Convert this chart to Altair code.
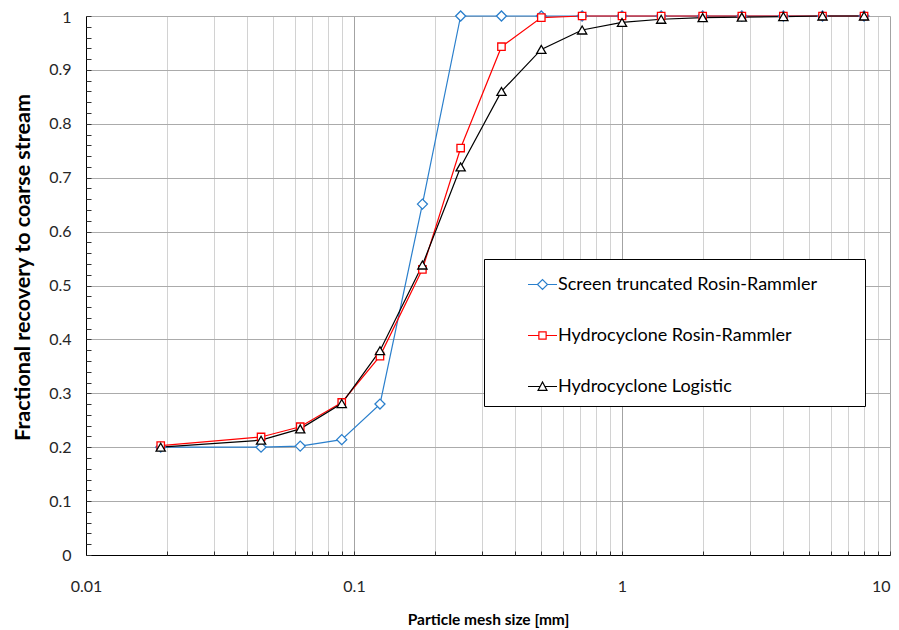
import altair as alt
import pandas as pd

# ---- data ----
sizes = [0.019, 0.045, 0.063, 0.09, 0.125, 0.18, 0.25, 0.355, 0.5, 0.71, 1, 1.4, 2, 2.8, 4, 5.6, 8]
screen_rr = [0.200, 0.200, 0.202, 0.214, 0.280, 0.651, 1.0, 1.0, 1.0, 1.0, 1.0, 1.0, 1.0, 1.0, 1.0, 1.0, 1.0]
cyclone_rr = [0.203, 0.219, 0.238, 0.283, 0.369, 0.530, 0.755, 0.943, 0.997, 1.0, 1.0, 1.0, 1.0, 1.0, 1.0, 1.0, 1.0]
cyclone_logistic = [0.200, 0.213, 0.234, 0.281, 0.379, 0.538, 0.720, 0.860, 0.938, 0.974, 0.988, 0.994, 0.997, 0.998, 0.999, 1.0, 1.0]

series_names = ["Screen truncated Rosin-Rammler", "Hydrocyclone Rosin-Rammler", "Hydrocyclone Logistic"]
series_colors = ["#2a7fcc", "#ff0000", "#000000"]
series_shapes = ["diamond", "square", "triangle-up"]
series_sizes = [100, 55, 85]

y_major = [0, 0.1, 0.2, 0.3, 0.4, 0.5, 0.6, 0.7, 0.8, 0.9, 1]
y_minor = [round(i * 0.02, 2) for i in range(51)]
x_ticks = [round(m * 10.0 ** e, 6) for e in (-2, -1, 0) for m in range(1, 10)] + [10]

rows = []
for name, vals in zip(series_names, [screen_rr, cyclone_rr, cyclone_logistic]):
    for s, v in zip(sizes, vals):
        rows.append({"size": s, "recovery": v, "series": name})
df = pd.DataFrame(rows)

FONT = "Lato"
decade_test = "abs(log(datum.value)/LN10 - round(log(datum.value)/LN10)) < 0.001"

x_scale = alt.Scale(type="log", domain=[0.01, 10])
y_scale = alt.Scale(domain=[0, 1], nice=False, zero=False)
stroke_scale = alt.Scale(domain=series_names, range=series_colors)

# legend symbols: short line with the marker in the middle (paths in [-1,1])
legend_paths = [
    "M-1,0H-0.345M0.345,0H1M-0.345,0L0,-0.345L0.345,0L0,0.345Z",
    "M-1,0H-0.25M0.25,0H1M-0.25,-0.25H0.25V0.25H-0.25Z",
    "M-1,0H-0.2M0.2,0H1M-0.31,0.27L0,-0.31L0.31,0.27Z",
]

legend = alt.Legend(
    title="\u00a0",
    titleOrient="right",
    titlePadding=38,
    titleFontSize=8,
    orient="none",
    legendX=398,
    legendY=243,
    symbolSize=841,
    symbolStrokeWidth=1.2,
    symbolFillColor="white",
    symbolOffset=33,
    labelOffset=0,
    labelFont=FONT,
    labelFontSize=18,
    labelColor="black",
    labelLimit=500,
    rowPadding=26,
    padding=10,
    strokeColor="black",
    fillColor="white",
)

x_main_axis = alt.Axis(
    values=x_ticks,
    grid=True,
    gridColor={"condition": {"test": decade_test, "value": "#a3a3a3"}, "value": "#d2d2d2"},
    gridWidth=1,
    ticks=False,
    domain=True,
    domainColor="black",
    domainWidth=1,
    labelExpr=f"{decade_test} ? format(datum.value, '~g') : ''",
    labelAlign={"condition": {"test": "datum.value >= 9.99", "value": "right"}, "value": "center"},
    labelFont=FONT,
    labelFontSize=16,
    labelColor="#262626",
    labelPadding=23,
    labelFlush=False,
    labelOverlap=False,
    title="Particle mesh size [mm]",
    titleFont=FONT,
    titleFontSize=15.5,
    titleFontWeight="bold",
    titleColor="black",
    titlePadding=18,
)
y_main_axis = alt.Axis(
    values=y_major,
    grid=True,
    gridColor="#ababab",
    gridWidth=1,
    ticks=False,
    domain=True,
    domainColor="black",
    domainWidth=1,
    format="~g",
    labelFont=FONT,
    labelFontSize=16,
    labelColor="#262626",
    labelPadding=15,
    labelOffset={"condition": {"test": "datum.value >= 0.999", "value": 1.5}, "value": 0},
    title="Fractional recovery to coarse stream",
    titleFont=FONT,
    titleFontSize=21.5,
    titleFontWeight="bold",
    titleColor="black",
    titlePadding=14.5,
    titleY=251,
)
x_tick_axis = alt.Axis(
    values=x_ticks, orient="bottom", offset=-4, tickSize=4, ticks=True, tickColor="#333333",
    domain=False, labels=False, grid=False, title=None,
)
y_tick_axis = alt.Axis(
    values=y_minor, orient="left", offset=-5, tickSize=5, ticks=True, tickColor="#333333",
    domain=False, labels=False, grid=False, title=None,
)

lines = alt.Chart(df).mark_line(strokeWidth=1.2).encode(
    x=alt.X("size:Q", scale=x_scale, axis=x_main_axis),
    y=alt.Y("recovery:Q", scale=y_scale, axis=y_main_axis),
    stroke=alt.Stroke("series:N", scale=stroke_scale, legend=legend),
    detail="series:N",
)

# legend-only layer (no rows pass the filter): supplies the marker shapes of the legend
legend_layer = alt.Chart(df).transform_filter("false").mark_point(
    fill="white", filled=False, size=841, strokeWidth=1.2, opacity=1
).encode(
    x=alt.X("size:Q", scale=x_scale, axis=x_tick_axis),
    y=alt.Y("recovery:Q", scale=y_scale, axis=y_tick_axis),
    stroke=alt.Stroke("series:N", scale=stroke_scale, legend=legend),
    shape=alt.Shape("series:N", scale=alt.Scale(domain=series_names, range=legend_paths), legend=legend),
)

point_layers = []
for name, color, shp, sz in zip(series_names, series_colors, series_shapes, series_sizes):
    point_layers.append(
        alt.Chart(df).transform_filter(alt.datum.series == name).mark_point(
            shape=shp, size=sz, stroke=color, fill="white", filled=False, strokeWidth=1.3, opacity=1
        ).encode(
            x=alt.X("size:Q", scale=x_scale, axis=None),
            y=alt.Y("recovery:Q", scale=y_scale, axis=None),
        )
    )

chart = (
    alt.layer(lines, legend_layer, *point_layers)
    .resolve_axis(x="independent", y="independent")
    .properties(
        width=804,
        height=539,
        padding={"left": 78, "top": 8, "right": 1, "bottom": 74},
        autosize=alt.AutoSizeParams(type="none"),
        background="white",
    )
    .configure_view(stroke=None)
)

chart.save("out.html", embed_options={"renderer": "svg", "actions": False})
